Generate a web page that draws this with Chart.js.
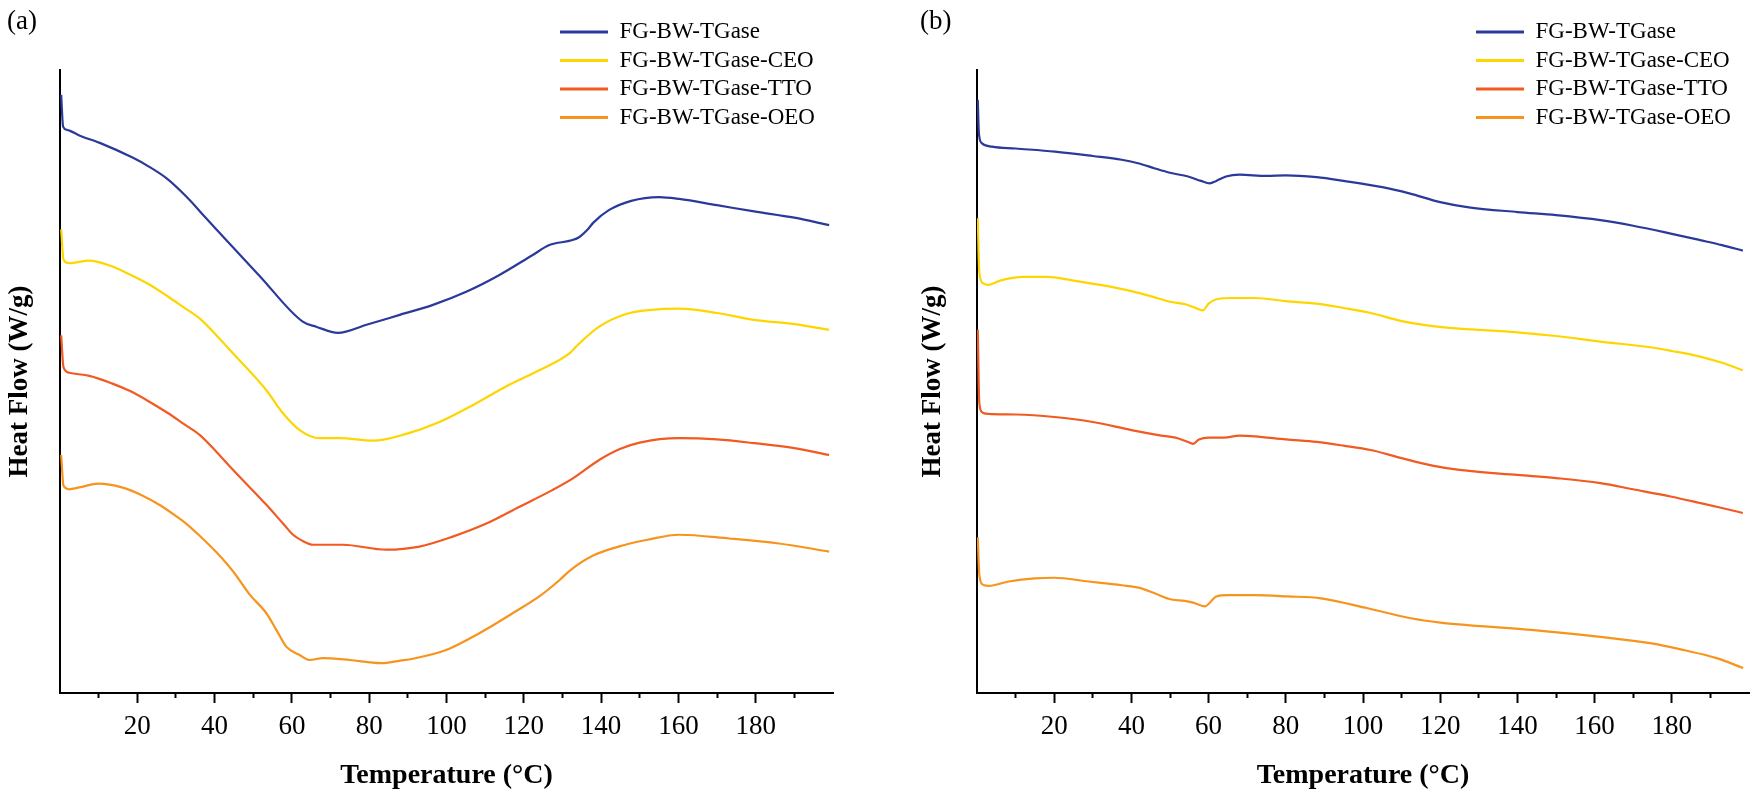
<!DOCTYPE html>
<html><head><meta charset="utf-8">
<script src="https://cdn.jsdelivr.net/npm/chart.js@4.4.1/dist/chart.umd.min.js"></script>
<style>
html,body{margin:0;padding:0;background:#fff;width:1750px;height:795px;overflow:hidden}
.wrap{position:absolute;top:0;height:795px}
#wa{left:0;width:845px}
#wb{left:917px;width:833px}
canvas{display:block}
</style></head><body>
<div class="wrap" id="wa"><canvas id="ca" width="845" height="795"></canvas></div>
<div class="wrap" id="wb"><canvas id="cb" width="833" height="795"></canvas></div>
<script>
// ---------- data ----------
const seriesNames = ['FG-BW-TGase', 'FG-BW-TGase-CEO', 'FG-BW-TGase-TTO', 'FG-BW-TGase-OEO'];
const seriesColors = ['#2B3A9A', '#FFD500', '#F15A22', '#F7941D'];
const xMajorTicks = [20, 40, 60, 80, 100, 120, 140, 160, 180];
const xMinorTicks = [10, 30, 50, 70, 90, 110, 130, 150, 170, 190];
const panelLabels = ['(a)', '(b)'];

// Panel (a): [temperature °C, heat flow (arbitrary offset units)]
const a_TGase = [[0.3,9.60],[0.8,9.09],[1.8,9.04],[5,8.95],[10.3,8.83],[18.9,8.59],[23,8.45],[27.6,8.26],[32.8,7.96],[36.5,7.71],[40.6,7.43],[51.7,6.69],[62.8,5.96],[66.3,5.88],[71.9,5.78],[79.3,5.91],[87.9,6.07],[96.5,6.23],[105.1,6.44],[113.7,6.71],[122.3,7.03],[126.6,7.19],[132.6,7.27],[134.4,7.32],[136.4,7.43],[138,7.55],[142,7.75],[147.8,7.90],[155,7.96],[160.2,7.93],[170,7.83],[179.6,7.73],[190,7.63],[199,7.51]];
const a_CEO = [[0.3,7.44],[0.9,6.96],[2.4,6.90],[7.6,6.94],[13.4,6.85],[18,6.72],[23,6.56],[28,6.36],[32,6.19],[36.2,6.01],[40.5,5.74],[44.8,5.45],[53.4,4.86],[57.7,4.49],[62,4.22],[67.2,4.09],[72.4,4.09],[81,4.05],[89.6,4.16],[98.2,4.35],[106.8,4.62],[115.4,4.92],[124,5.18],[131.8,5.45],[133.5,5.56],[139.5,5.88],[146.3,6.08],[153,6.15],[160.2,6.17],[170,6.10],[179.6,5.99],[190,5.92],[199,5.83]];
const a_TTO = [[0.3,5.74],[0.9,5.23],[2.4,5.14],[7.6,5.09],[13.4,4.97],[18,4.85],[23,4.68],[28,4.49],[32,4.32],[36.2,4.14],[40.5,3.87],[44.8,3.58],[53.4,3.02],[57.7,2.72],[60.3,2.54],[62.5,2.45],[65.5,2.38],[73.2,2.38],[84.4,2.30],[93,2.35],[101.6,2.51],[110.3,2.72],[118.9,2.99],[127.5,3.26],[132.6,3.44],[139.5,3.74],[145,3.92],[150,4.02],[160.2,4.09],[170,4.07],[179.6,4.01],[190,3.93],[199,3.82]];
const a_OEO = [[0.3,3.82],[0.9,3.33],[2.4,3.27],[5,3.30],[10,3.36],[16,3.30],[21,3.18],[26,3.01],[30,2.84],[33,2.70],[36.2,2.52],[40.6,2.25],[44.8,1.95],[49.1,1.58],[53.4,1.28],[56,1.01],[58.6,0.74],[62,0.61],[64.6,0.53],[68,0.56],[75,0.53],[83,0.48],[88,0.52],[91.3,0.55],[99.9,0.69],[108.5,0.96],[117.1,1.28],[124,1.55],[129.2,1.81],[132,1.97],[137.7,2.20],[146.3,2.38],[152,2.46],[160.2,2.54],[173.1,2.48],[186,2.40],[199,2.27]];

// Panel (b)
const b_TGase = [[0.2,9.52],[0.5,8.98],[1.2,8.83],[3.9,8.77],[10,8.74],[20.2,8.69],[30,8.62],[37.5,8.56],[42,8.50],[46.1,8.42],[50,8.35],[54.7,8.29],[58,8.22],[60.3,8.18],[62,8.22],[64.5,8.29],[68,8.32],[75,8.30],[80,8.31],[88,8.28],[95,8.22],[105,8.12],[112,8.02],[120,7.88],[127,7.80],[140,7.72],[150,7.67],[161.5,7.59],[170,7.50],[180,7.37],[187.3,7.27],[193,7.19],[198.4,7.10]];
const b_CEO = [[0.2,7.62],[0.6,6.75],[1.5,6.58],[3,6.55],[6,6.62],[12,6.68],[18,6.68],[25,6.62],[32,6.55],[40,6.45],[45,6.37],[50,6.28],[54,6.24],[57,6.17],[58.5,6.14],[60,6.25],[62,6.32],[66,6.34],[72,6.34],[80,6.29],[88,6.25],[95,6.18],[102,6.10],[110,5.97],[118,5.89],[125,5.85],[140,5.79],[150,5.73],[161.5,5.64],[174.4,5.55],[180,5.49],[187.3,5.40],[193,5.30],[198.4,5.18]];
const b_TTO = [[0.2,5.83],[0.6,4.65],[1.5,4.50],[3,4.48],[10,4.47],[20,4.43],[30,4.35],[40,4.22],[47,4.14],[52,4.09],[55,4.02],[56,4.00],[57.5,4.07],[60,4.10],[64,4.10],[68,4.13],[72,4.12],[80,4.07],[88,4.03],[95,3.97],[102,3.90],[110,3.77],[118,3.65],[125,3.58],[140,3.50],[150,3.45],[161.5,3.37],[170,3.27],[180,3.15],[187.3,3.05],[193,2.97],[198.4,2.89]];
const b_OEO = [[0.2,2.50],[0.6,1.90],[1.5,1.74],[3,1.72],[8.2,1.79],[15,1.84],[20,1.85],[28.9,1.79],[37.5,1.73],[42.6,1.68],[46,1.60],[50.4,1.50],[53.8,1.48],[56,1.45],[59,1.39],[62,1.55],[65,1.57],[71.9,1.57],[80.5,1.55],[89.1,1.52],[101.2,1.36],[112.4,1.20],[120,1.13],[127,1.09],[144.3,1.01],[161.5,0.90],[174.4,0.80],[183,0.69],[191.6,0.56],[198.5,0.40]];

// ---------- chart builder ----------
const SERIF = "'Times New Roman', 'Liberation Serif', serif";

function makeChart(canvasId, label, seriesList, g) {
  const datasets = seriesList.map((pts, i) => ({
    label: seriesNames[i],
    data: pts.map(p => ({x: p[0], y: p[1]})),
    borderColor: seriesColors[i],
    backgroundColor: seriesColors[i],
    borderWidth: 2.2,
    pointRadius: 0,
    cubicInterpolationMode: 'monotone',
    fill: false
  }));
  const legendPos = {
    id: 'legendPos',
    afterLayout(chart) {
      chart.legend.left = g.legendLeft;
      chart.legend.top = g.legendTop;
    }
  };
  return new Chart(document.getElementById(canvasId), {
    type: 'line',
    data: {datasets},
    plugins: [legendPos],
    options: {
      responsive: false,
      animation: false,
      devicePixelRatio: 1,
      layout: {padding: {left: g.padLeft, right: g.padRight, top: 0, bottom: 0}},
      plugins: {
        title: {
          display: true, text: label, align: 'start', color: '#000',
          font: {family: SERIF, size: 27, weight: 'normal', lineHeight: 1.2},
          padding: {top: 6, bottom: 31.6}
        },
        legend: {
          display: true, position: 'chartArea', align: 'start',
          labels: {
            boxWidth: 48, boxHeight: 3, padding: 5.5, color: '#000',
            font: {family: SERIF, size: 23},
            generateLabels: (chart) => Chart.defaults.plugins.legend.labels.generateLabels(chart)
              .map(it => Object.assign(it, {fillStyle: seriesColors[it.datasetIndex], lineWidth: 0}))
          }
        },
        tooltip: {enabled: false}
      },
      scales: {
        x: {
          type: 'linear', position: 'bottom', min: 0, max: 200,
          afterBuildTicks: s => { s.ticks = xMajorTicks.map(v => ({value: v})); },
          afterFit: s => { s.height = 102; },
          ticks: {color: '#000', padding: 8, autoSkip: false, maxRotation: 0,
                  font: {family: SERIF, size: 27}},
          grid: {drawOnChartArea: false, drawTicks: true, tickLength: 10, tickWidth: 2, tickColor: '#000'},
          border: {display: true, color: '#000', width: 2},
          title: {display: true, text: 'Temperature (°C)', color: '#000',
                  font: {family: SERIF, size: 28, weight: 'bold', lineHeight: 1.2},
                  padding: {top: 0, bottom: 2}}
        },
        x2: {
          type: 'linear', axis: 'x', position: {y: 0}, min: 0, max: 200,
          afterBuildTicks: s => { s.ticks = xMinorTicks.map(v => ({value: v})); },
          ticks: {display: false},
          grid: {drawOnChartArea: false, drawTicks: true, tickLength: 5, tickWidth: 2, tickColor: '#000'},
          border: {display: false}
        },
        y: {
          type: 'linear', position: 'left', min: 0, max: 10,
          afterFit: s => { s.width = g.yWidth; },
          ticks: {display: false},
          grid: {display: false},
          border: {display: true, color: '#000', width: 2},
          title: {display: true, text: 'Heat Flow (W/g)', color: '#000',
                  font: {family: SERIF, size: 27, weight: 'bold', lineHeight: 1},
                  padding: 0}
        }
      }
    }
  });
}

makeChart('ca', panelLabels[0], [a_TGase, a_CEO, a_TTO, a_OEO],
  {padLeft: 7, padRight: 12, yWidth: 53, legendLeft: 554.5, legendTop: 15});
makeChart('cb', panelLabels[1], [b_TGase, b_CEO, b_TTO, b_OEO],
  {padLeft: 3, padRight: 1, yWidth: 57, legendLeft: 553.5, legendTop: 15});
</script>
</body></html>
